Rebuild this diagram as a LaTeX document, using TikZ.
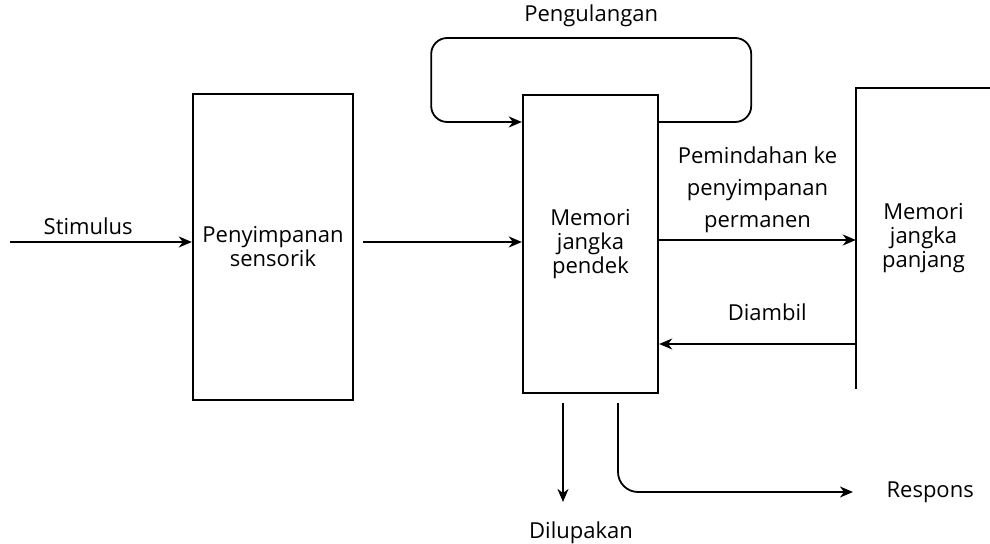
\documentclass[tikz,border=0pt]{standalone}
\usepackage{fontspec}
\setmainfont{Open Sans}
\usetikzlibrary{arrows,arrows.meta,positioning}
\tikzset{
    %Define standard arrow tip
    >={Stealth[length=6.5pt,width=5.5pt,inset=2pt]},
    kotak/.style={
      rectangle,
      draw=black, line width=1.2pt,
      align=center,
      font=\fontsize{11}{12}\selectfont},
    teks/.style={
      align=center,
      font=\fontsize{11}{16}\selectfont}
}

\begin{document}
\begin{tikzpicture}[x=0.5pt,y=-0.5pt,line width=0.9pt]
\useasboundingbox (0,0) rectangle (990,544);
% the three stores
\node [kotak, minimum width=80pt, minimum height=153pt] (sensorik) at (273,247) {Penyimpanan\\sensorik};
\node [kotak, minimum width=67.5pt, minimum height=149pt] (pendek) at (590.5,244) {Memori\\jangka\\pendek};
\node [kotak, draw=none, minimum width=66.5pt, minimum height=149.5pt] (panjang) at (923.5,238.5) {Memori\\jangka\\panjang};
\draw [line width=0.8pt] (panjang.north east) -- (panjang.north west) -- (panjang.south west);

\coordinate (stim) at (10,242);
\coordinate (ulang) at (590,122);
\coordinate (pindah) at (757,240);
\coordinate (ambil) at (768,344);
\coordinate (lupa) at (563,502);
\coordinate (keluar) at (618,492);
\coordinate (respon) at (853,492);

\draw[->] (stim) -- (stim -| sensorik.west) node[pos=0.43, above, teks] {Stimulus};
\draw[->, shorten <=4.5pt] (sensorik.east |- stim) -- (pendek.west |- stim);
% rehearsal loop
\draw[->, rounded corners=8pt] (pendek.east |- ulang) -- ++(92,0) -- ++(0,-84)
  -- node[above=2pt, teks] {Pengulangan} ++(-320,0) -- ++(0,84) -- (pendek.west |- ulang);
\draw[->] (pendek.east |- pindah) -- (panjang.west |- pindah)
  node[midway, above, teks] {Pemindahan ke\\penyimpanan\\permanen};
\draw[->] (panjang.west |- ambil) -- (pendek.east |- ambil)
  node[pos=0.45, above=8pt, teks] {Diambil};
% outputs
\draw[->, shorten <=4.5pt] (pendek.south -| lupa) -- (lupa)
  node[below=6pt, xshift=9pt, teks] {Dilupakan};
\draw[->, shorten <=4.5pt, rounded corners=10pt] (pendek.south -| keluar) |- (respon)
  node[right=13pt, teks] {Respons};
\end{tikzpicture}
\end{document}
